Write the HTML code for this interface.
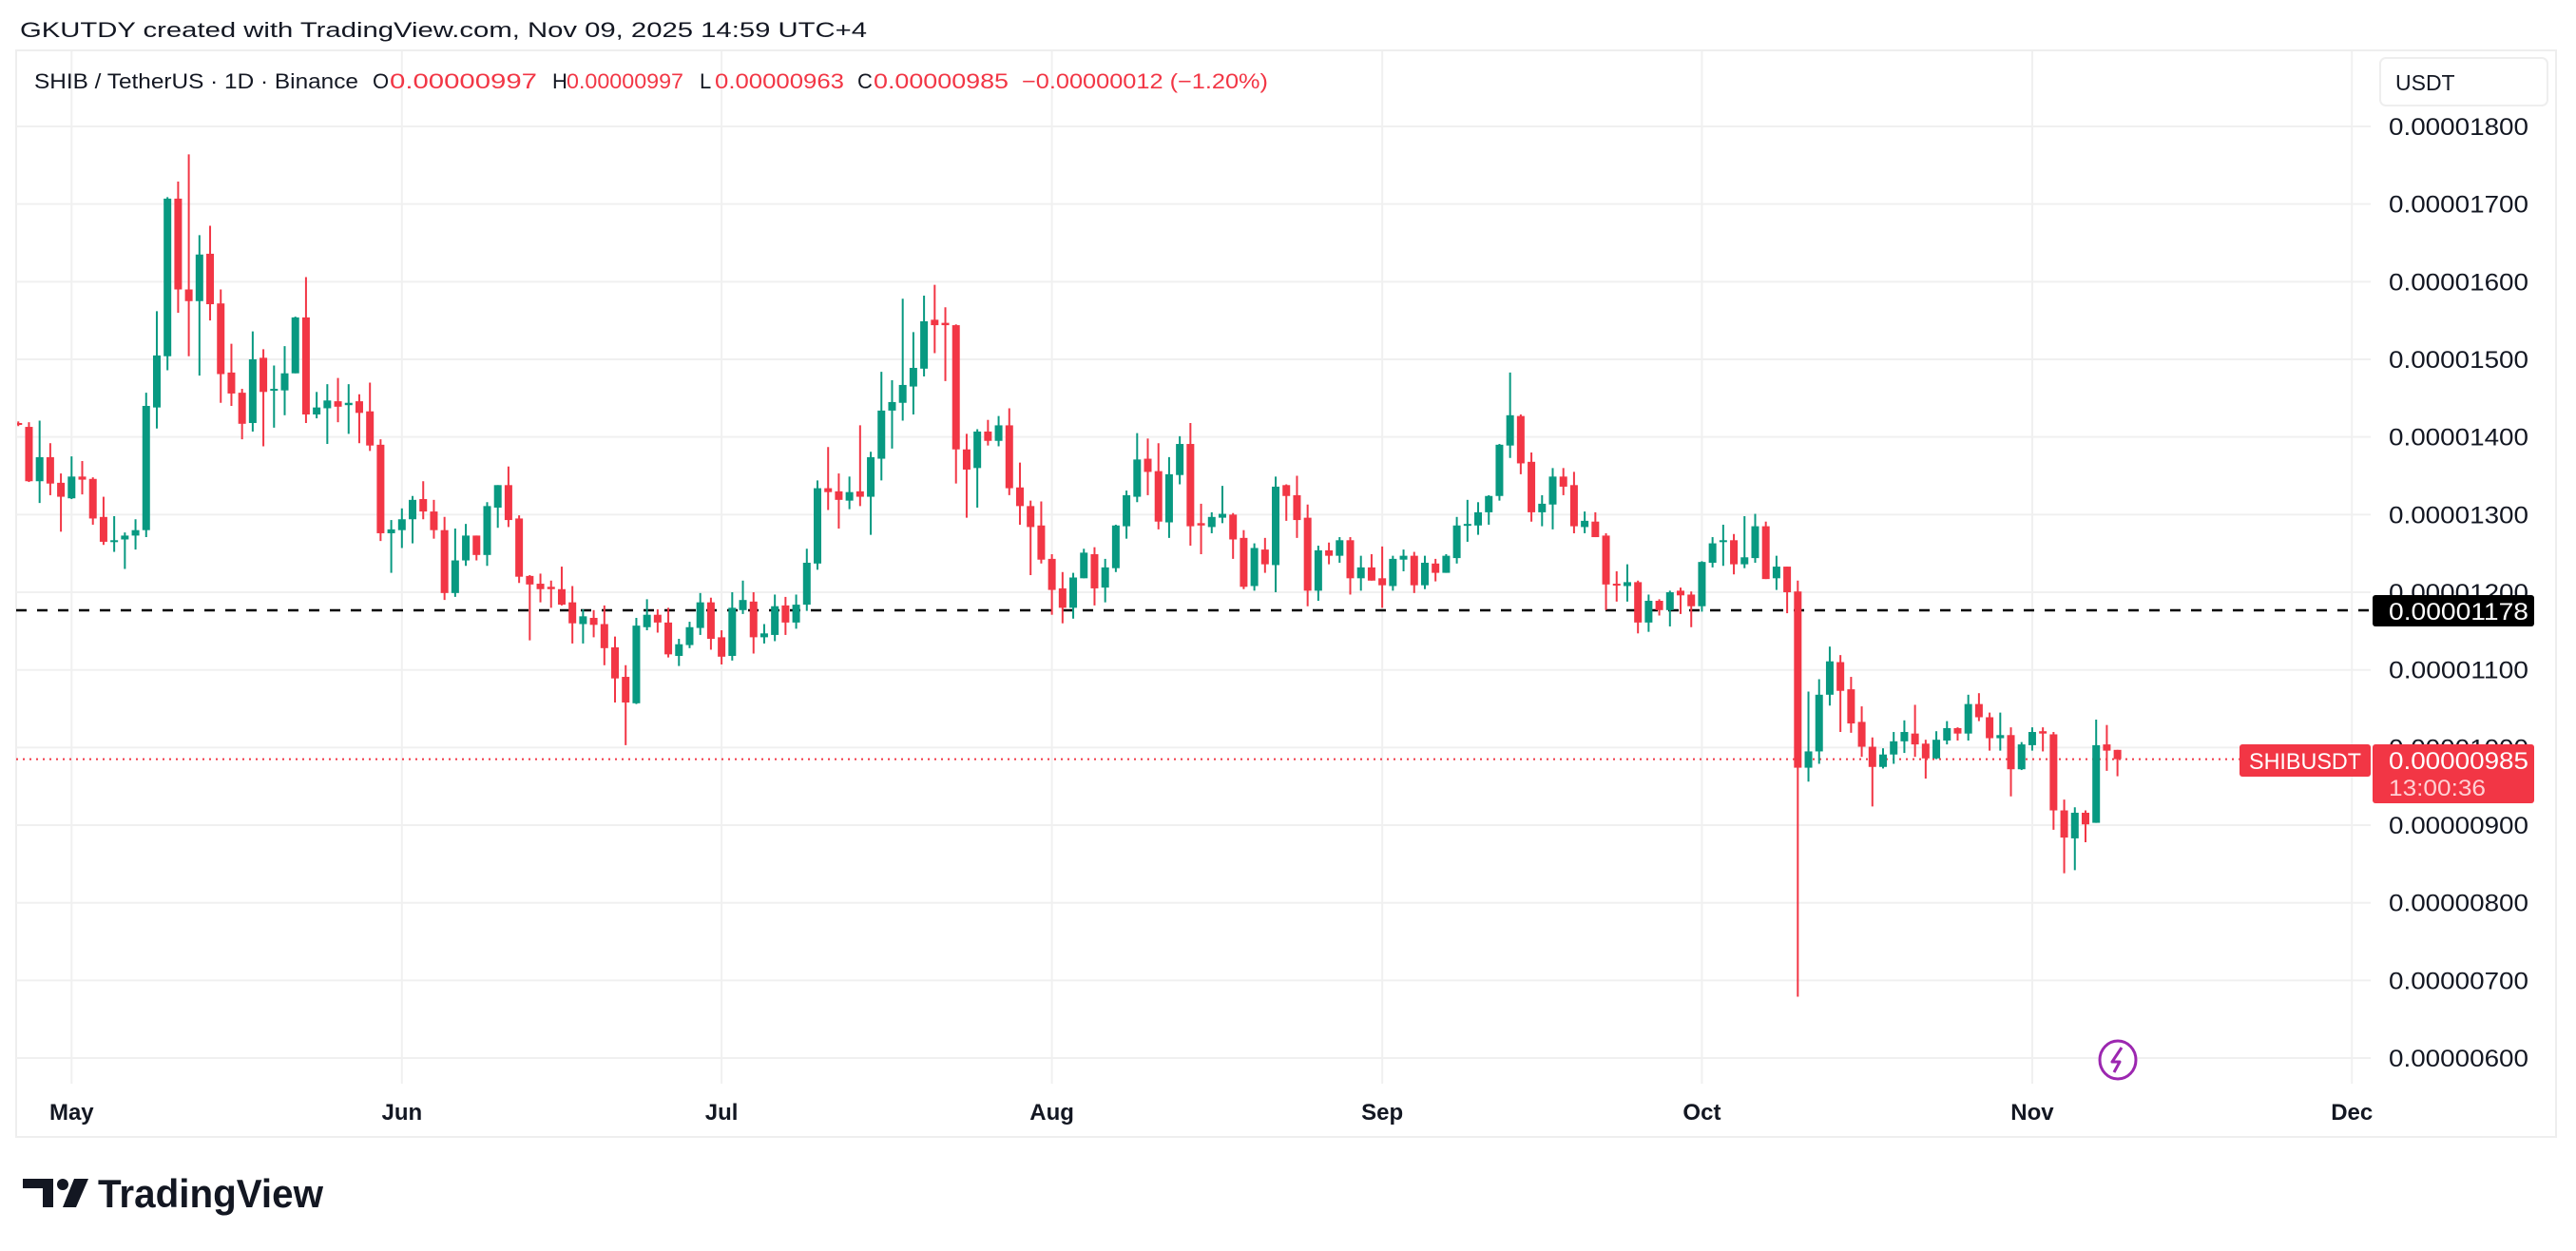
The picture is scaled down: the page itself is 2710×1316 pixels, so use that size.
<!DOCTYPE html>
<html><head><meta charset="utf-8"><style>
html,body{margin:0;padding:0;background:#fff;}
svg{display:block;font-family:"Liberation Sans",Arial,sans-serif;}
</style></head><body>
<svg id="chart" width="2710" height="1316" viewBox="0 0 2710 1316" xmlns="http://www.w3.org/2000/svg">
<rect x="0" y="0" width="2710" height="1316" fill="#fff"/>
<text x="21" y="39" font-size="22" fill="#131722" textLength="891" lengthAdjust="spacingAndGlyphs">GKUTDY created with TradingView.com, Nov 09, 2025 14:59 UTC+4</text>
<rect x="17" y="53" width="2672" height="1143" fill="none" stroke="#eeeeee" stroke-width="2"/>
<g id="grid"></g>
<g id="yaxis"></g>
<g id="xaxis"></g>
<line x1="17" y1="642" x2="2494" y2="642" stroke="#000" stroke-width="2.5" stroke-dasharray="11 11"/>
<line id="lastline" x1="17" x2="2356" stroke="#f23645" stroke-width="2" stroke-dasharray="2 5"/>
<g id="candles"></g>
<g font-size="22">
<text x="36" y="93" fill="#131722" textLength="341" lengthAdjust="spacingAndGlyphs">SHIB / TetherUS · 1D · Binance</text>
<text x="392" y="93" fill="#131722">O</text><text x="410" y="93" fill="#f23645" textLength="155" lengthAdjust="spacingAndGlyphs">0.00000997</text>
<text x="581" y="93" fill="#131722">H</text><text x="596" y="93" fill="#f23645" textLength="123" lengthAdjust="spacingAndGlyphs">0.00000997</text>
<text x="736" y="93" fill="#131722">L</text><text x="752" y="93" fill="#f23645" textLength="136" lengthAdjust="spacingAndGlyphs">0.00000963</text>
<text x="902" y="93" fill="#131722">C</text><text x="919" y="93" fill="#f23645" textLength="142" lengthAdjust="spacingAndGlyphs">0.00000985</text>
<text x="1075" y="93" fill="#f23645" textLength="259" lengthAdjust="spacingAndGlyphs">−0.00000012 (−1.20%)</text>
</g>
<g>
<rect x="2504" y="61" width="176" height="50" rx="6" fill="#fff" stroke="#eeeeee" stroke-width="2"/>
<text x="2520" y="95" font-size="23" fill="#131722">USDT</text>
</g>
<g>
<rect x="2496" y="626" width="170" height="33" rx="3" fill="#000"/>
<text x="2513" y="652" font-size="25" fill="#fff" textLength="147" lengthAdjust="spacingAndGlyphs">0.00001178</text>
</g>
<g>
<rect x="2356" y="783" width="138" height="34" rx="3" fill="#f23645"/>
<text x="2366" y="809" font-size="24" fill="#fff" textLength="118" lengthAdjust="spacingAndGlyphs">SHIBUSDT</text>
</g>
<g>
<rect x="2496" y="783" width="170" height="62" rx="3" fill="#f23645"/>
<text x="2513" y="809" font-size="25" fill="#fff" textLength="147" lengthAdjust="spacingAndGlyphs">0.00000985</text>
<text x="2513" y="837" font-size="24" fill="#ffd0d4" textLength="102" lengthAdjust="spacingAndGlyphs">13:00:36</text>
</g>
<g>
<ellipse cx="2228" cy="1115" rx="19" ry="20" fill="#fff" stroke="#9c27b0" stroke-width="3"/>
<path d="M2232 1102 L2222 1117 L2230 1117 L2224 1128" fill="none" stroke="#9c27b0" stroke-width="3" stroke-linejoin="round"/>
</g>
<g>
<path d="M24 1240 H56 V1270 H45 V1250 H24 Z" fill="#131722"/>
<circle cx="66" cy="1246" r="6" fill="#131722"/>
<path d="M78 1240 H93 L80 1270 H66 Z" fill="#131722"/>
<text x="103" y="1270" font-size="42" font-weight="bold" fill="#131722" textLength="237" lengthAdjust="spacingAndGlyphs">TradingView</text>
</g>
</svg>
<script>
// Dates start Apr 26, 2025 (index 0); prices in units of 1e-8 USDT
const opens  = [1418,1413,1343,1374,1341,1321,1349,1346,1297,1265,1268,1273,1280,1438,1504,1707,1590,1575,1636,1572,1483,1457,1418,1502,1460,1460,1482,1554,1429,1437,1446,1441,1446,1433,1390,1276,1280,1294,1320,1304,1280,1199,1241,1273,1248,1309,1338,1295,1221,1211,1207,1204,1187,1159,1167,1159,1129,1091,1057,1155,1171,1161,1118,1132,1154,1187,1142,1118,1177,1188,1142,1145,1183,1161,1184,1237,1334,1330,1318,1330,1323,1372,1434,1444,1465,1488,1551,1547,1544,1384,1360,1407,1395,1415,1335,1311,1286,1243,1205,1180,1218,1249,1206,1231,1285,1323,1372,1356,1290,1351,1391,1289,1284,1296,1300,1270,1208,1255,1235,1338,1325,1296,1202,1254,1247,1267,1218,1232,1218,1208,1242,1247,1209,1237,1225,1244,1286,1286,1303,1324,1389,1427,1368,1303,1313,1349,1338,1284,1291,1273,1211,1208,1213,1161,1189,1177,1202,1197,1182,1238,1266,1267,1236,1244,1285,1218,1233,1201,974,995,1068,1110,1075,1033,1001,975,991,1008,1018,1005,986,1009,1025,1018,1056,1039,1012,1016,972,1003,1021,1017,919,883,916,903,1004,997];
const highs  = [1420,1419,1421,1392,1353,1375,1369,1348,1323,1298,1277,1294,1457,1562,1709,1729,1764,1660,1672,1590,1520,1462,1536,1513,1492,1517,1555,1606,1458,1468,1476,1468,1455,1470,1397,1293,1308,1324,1343,1319,1297,1282,1288,1273,1316,1338,1362,1299,1222,1224,1215,1233,1208,1178,1177,1183,1143,1106,1167,1191,1178,1180,1140,1162,1199,1193,1151,1200,1215,1200,1159,1197,1194,1197,1256,1344,1387,1353,1349,1415,1381,1484,1473,1578,1535,1582,1596,1567,1545,1404,1410,1422,1427,1437,1367,1318,1317,1249,1226,1225,1256,1258,1243,1287,1331,1405,1398,1392,1374,1401,1418,1314,1303,1337,1302,1280,1263,1270,1349,1339,1350,1313,1260,1264,1271,1271,1247,1249,1259,1247,1255,1252,1247,1243,1249,1297,1319,1316,1325,1391,1483,1429,1380,1325,1360,1360,1355,1304,1303,1276,1227,1236,1215,1197,1191,1202,1206,1201,1240,1271,1287,1275,1298,1301,1291,1247,1233,1215,1072,1088,1130,1119,1091,1053,1013,999,1020,1035,1055,1010,1021,1034,1026,1068,1070,1045,1045,1026,1007,1026,1026,1020,933,923,919,1036,1029,997];
const lows   = [1414,1342,1315,1325,1278,1320,1326,1287,1261,1252,1230,1255,1271,1411,1486,1560,1504,1479,1550,1444,1440,1397,1407,1388,1412,1428,1482,1418,1424,1391,1419,1404,1392,1382,1266,1225,1257,1263,1294,1269,1190,1194,1234,1241,1234,1283,1284,1212,1138,1187,1180,1183,1134,1134,1142,1106,1058,1003,1056,1151,1148,1116,1105,1128,1145,1126,1107,1112,1172,1121,1134,1137,1145,1153,1176,1229,1306,1282,1307,1311,1274,1344,1385,1421,1429,1478,1508,1472,1340,1296,1309,1389,1388,1325,1287,1222,1237,1171,1160,1166,1218,1183,1187,1226,1269,1316,1325,1281,1270,1339,1260,1249,1276,1289,1243,1204,1202,1225,1200,1292,1270,1182,1189,1236,1238,1197,1202,1215,1180,1202,1227,1199,1204,1214,1225,1237,1265,1274,1287,1318,1373,1352,1291,1285,1281,1325,1276,1276,1271,1177,1188,1188,1147,1149,1170,1156,1172,1155,1175,1232,1234,1223,1231,1238,1217,1203,1173,679,956,979,1054,1020,1019,988,924,973,979,993,988,960,985,1004,1009,1009,1034,996,996,937,971,996,995,894,838,842,878,903,970,963];
const closes = [1416,1343,1374,1340,1323,1349,1345,1295,1265,1267,1273,1280,1440,1505,1707,1590,1575,1635,1571,1481,1456,1417,1500,1458,1462,1482,1554,1429,1438,1447,1439,1444,1431,1389,1276,1281,1294,1319,1304,1280,1199,1241,1273,1248,1311,1338,1293,1220,1210,1204,1204,1184,1160,1169,1158,1128,1089,1058,1157,1171,1161,1120,1133,1155,1187,1140,1117,1180,1190,1142,1147,1182,1161,1184,1238,1334,1329,1319,1329,1323,1374,1434,1445,1467,1489,1549,1544,1544,1384,1358,1407,1395,1415,1334,1311,1284,1242,1203,1180,1219,1251,1205,1232,1286,1325,1371,1355,1291,1352,1391,1285,1286,1297,1301,1268,1207,1257,1236,1336,1324,1293,1202,1254,1247,1267,1218,1232,1215,1209,1243,1247,1209,1238,1225,1247,1286,1288,1303,1324,1390,1428,1366,1303,1314,1349,1336,1285,1292,1271,1210,1209,1213,1161,1189,1177,1200,1196,1182,1239,1263,1267,1236,1245,1285,1217,1233,1200,974,995,1068,1111,1073,1031,1001,975,991,1008,1020,1004,986,1010,1025,1018,1056,1039,1012,1016,972,1004,1020,1018,919,884,916,901,1003,996,985];
const priceTicks = [1800,1700,1600,1500,1400,1300,1200,1100,1000,900,800,700,600];
const monthLabels = ["May","Jun","Jul","Aug","Sep","Oct","Nov","Dec"];
const monthDayOffsets = [0,31,61,92,123,153,184,214]; // days from May 1
const firstDayOffset = -5; // Apr 26 relative to May 1
const lastPrice = 985;

const NS = "http://www.w3.org/2000/svg";
const X0 = 75.3, DX = 11.21, Y0 = 133, PY = 0.8167;
function xOfDay(d){ return X0 + d*DX; }
function yOf(p){ return Y0 + (1800 - p)*PY; }
function mk(tag, attrs, parent){
  const e = document.createElementNS(NS, tag);
  for (const k in attrs) e.setAttribute(k, attrs[k]);
  parent.appendChild(e); return e;
}
const grid = document.getElementById('grid');
const yaxis = document.getElementById('yaxis');
const xaxis = document.getElementById('xaxis');
const cg = document.getElementById('candles');

priceTicks.forEach(function(p){
  const y = yOf(p);
  const gl = mk('line', {x1:17, x2:2494, y1:y, y2:y, stroke:'#f0f0f0', 'stroke-width':2}, grid);
  
  
  const t = mk('text', {x:2513, y:y+9, 'font-size':25, fill:'#131722', textLength:147, lengthAdjust:'spacingAndGlyphs'}, yaxis);
  t.textContent = '0.0000' + String(p).padStart(4,'0');
  
  
});
monthLabels.forEach(function(m, i){
  const x = xOfDay(monthDayOffsets[i]);
  const gl = mk('line', {x1:x, x2:x, y1:54, y2:1140, stroke:'#f0f0f0', 'stroke-width':2}, grid);
  
  
  const t = mk('text', {x:x, y:1178, 'font-size':24, 'font-weight':'bold', fill:'#131722', 'text-anchor':'middle'}, xaxis);
  t.textContent = m;
  
  
});
const ly = yOf(lastPrice);
const ll = document.getElementById('lastline');
ll.setAttribute('y1', ly); ll.setAttribute('y2', ly);

const clip = mk('clipPath', {id:'plotclip'}, document.getElementById('chart'));
mk('rect', {x:18, y:54, width:2476, height:1086}, clip);
cg.setAttribute('clip-path', 'url(#plotclip)');

for (let i = 0; i < opens.length; i++){
  const x = xOfDay(firstDayOffset + i);
  const o = opens[i], h = highs[i], l = lows[i], c = closes[i];
  const col = c >= o ? '#089981' : '#f23645';
  const w = mk('line', {x1:x, x2:x, y1:yOf(h), y2:yOf(l), stroke:col, 'stroke-width':2}, cg);
  
  
  const top = yOf(Math.max(o,c)), bot = yOf(Math.min(o,c));
  const b = mk('rect', {x:x-4, y:top, width:8, height:Math.max(2, bot-top), fill:col}, cg);
  
  
}
</script>
</body></html>
